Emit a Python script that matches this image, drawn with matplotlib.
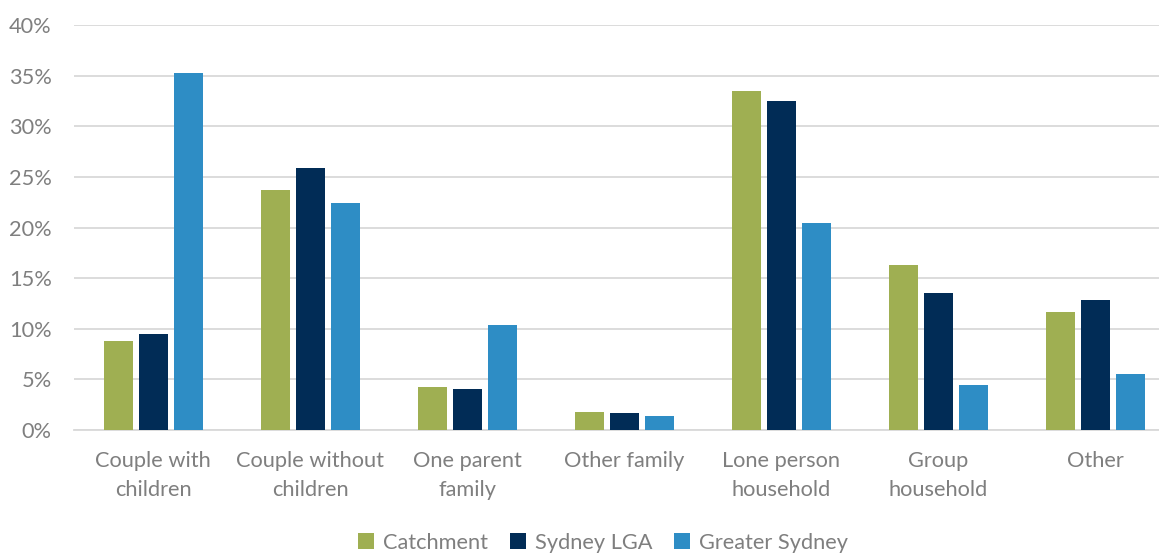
import numpy as np
import matplotlib.pyplot as plt
from matplotlib.ticker import PercentFormatter

categories = ['Couple with\nchildren', 'Couple without\nchildren', 'One parent\nfamily',
              'Other family', 'Lone person\nhousehold', 'Group\nhousehold', 'Other']
catchment = [8.8, 23.7, 4.25, 1.8, 33.5, 16.3, 11.7]
sydney_lga = [9.5, 25.9, 4.05, 1.7, 32.5, 13.5, 12.85]
greater_sydney = [35.3, 22.4, 10.4, 1.35, 20.45, 4.45, 5.55]

series = [('Catchment', catchment, '#9FAF52'),
          ('Sydney LGA', sydney_lga, '#012C56'),
          ('Greater Sydney', greater_sydney, '#2E8DC5')]

plt.rcParams['font.family'] = ['Lato', 'DejaVu Sans']
grey = '#7F7F7F'
fs = 15.7

fig = plt.figure(figsize=(11.59, 5.54), dpi=100)
ax = fig.add_axes([74 / 1159, 1 - 430 / 554, 1 - 74 / 1159, (430 - 25) / 554])

x = np.arange(len(categories))
step = 0.223
for i, (name, vals, col) in enumerate(series):
    ax.bar(x + (i - 1) * step, vals, width=0.185, color=col, label=name, zorder=3)

ax.set_xlim(-0.504, 6.407)
ax.set_ylim(0, 40)
ax.set_yticks(np.arange(0, 41, 5))
ax.yaxis.set_major_formatter(PercentFormatter(decimals=0))
ax.set_xticks(x)
ax.set_xticklabels(categories, linespacing=1.6)
ax.tick_params(axis='both', length=0, labelsize=fs, colors=grey)
ax.tick_params(axis='x', pad=15)
ax.tick_params(axis='y', pad=16)
ax.grid(axis='y', color='#D9D9D9', linewidth=1.3, zorder=0)
for s in ['top', 'right', 'left']:
    ax.spines[s].set_visible(False)
ax.spines['bottom'].set_color('#D9D9D9')
ax.spines['bottom'].set_linewidth(1.3)

fig.legend(loc='center', bbox_to_anchor=(603 / 1159, 1 - 543 / 554), ncol=3, frameon=False,
           fontsize=fs, labelcolor=grey, handlelength=0.75, handleheight=0.75,
           handletextpad=0.4, columnspacing=1.0, borderaxespad=0)

fig.savefig('out.png', dpi=100)
